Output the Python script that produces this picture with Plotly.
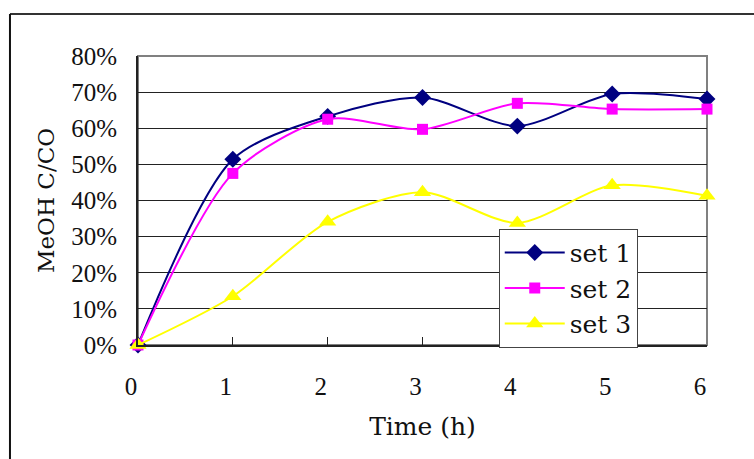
import plotly.graph_objects as go

# Sampling times (h) and methanol conversion for each run
time_h = [0, 1, 2, 3, 4, 5, 6]
set1 = [0.0, 0.514, 0.633, 0.685, 0.606, 0.695, 0.681]
set2 = [0.0, 0.475, 0.625, 0.597, 0.669, 0.653, 0.653]
set3 = [0.0, 0.135, 0.341, 0.423, 0.338, 0.442, 0.413]

series_names = ["set 1", "set 2", "set 3"]
series_values = [set1, set2, set3]
colors = ["#000080", "#FF00FF", "#FFFF00"]
symbols = ["diamond", "square", "triangle-up"]
sizes = [13, 11, 15]

y_ticks = [0.0, 0.1, 0.2, 0.3, 0.4, 0.5, 0.6, 0.7, 0.8]

TEXT_FONT = "'DejaVu Serif', serif"
NUM_FONT = "'Liberation Serif', 'Times New Roman', 'DejaVu Serif', serif"

fig = go.Figure()
for i, (name, vals) in enumerate(zip(series_names, series_values)):
    fig.add_trace(go.Scatter(
        x=time_h, y=vals, name=name, mode="lines+markers",
        line=dict(color=colors[i], width=2, shape="spline", smoothing=0.8),
        marker=dict(symbol=symbols[i], size=sizes[i], color=colors[i],
                    line=dict(width=0)),
        cliponaxis=False, legendgroup=name,
    ))

# plot-area border (grey top/right), drawn beneath the data
fig.add_shape(type="rect", xref="paper", yref="paper", x0=0, y0=0, x1=1, y1=1,
              line=dict(color="#808080", width=2), layer="below")
# outer chart frame
fig.add_shape(type="line", xref="paper", yref="paper", x0=-0.225, y0=1.145,
              x1=1.2, y1=1.145, line=dict(color="#333333", width=2))
fig.add_shape(type="line", xref="paper", yref="paper", x0=-0.225, y0=1.145,
              x1=-0.225, y1=-0.5, line=dict(color="#111111", width=2))

fig.update_layout(
    width=754, height=459,
    margin=dict(l=138, r=47, t=56, b=113.5),
    paper_bgcolor="white", plot_bgcolor="white",
    showlegend=True,
    legend=dict(
        x=0.634, y=0.402, xanchor="left", yanchor="top",
        bgcolor="white", bordercolor="#444444", borderwidth=1,
        font=dict(family=TEXT_FONT, size=25, color="#111111"),
        tracegroupgap=0, itemwidth=60,
    ),
    xaxis=dict(
        range=[0, 6], dtick=1, tick0=0,
        showgrid=False, zeroline=False,
        showline=True, linecolor="#222222", linewidth=2,
        ticks="inside", ticklen=8, tickcolor="#222222", tickwidth=1,
        tickfont=dict(family=NUM_FONT, size=25, color="#111111"),
        ticklabelshift=-7, ticklabelstandoff=18,
        title=dict(text="Time (h)", standoff=18,
                   font=dict(family=TEXT_FONT, size=25, color="#111111")),
    ),
    yaxis=dict(
        range=[0, 0.8], tickvals=y_ticks, tickformat=".0%",
        showgrid=True, gridcolor="#222222", gridwidth=1,
        zeroline=False,
        showline=True, linecolor="#222222", linewidth=2,
        ticks="inside", ticklen=8, tickcolor="#222222", tickwidth=1,
        tickfont=dict(family=NUM_FONT, size=25, color="#111111"),
        ticklabelstandoff=14,
        title=dict(text="MeOH C/CO", standoff=10,
                   font=dict(family=TEXT_FONT, size=23, color="#111111")),
    ),
)

fig.write_html("out.html")
